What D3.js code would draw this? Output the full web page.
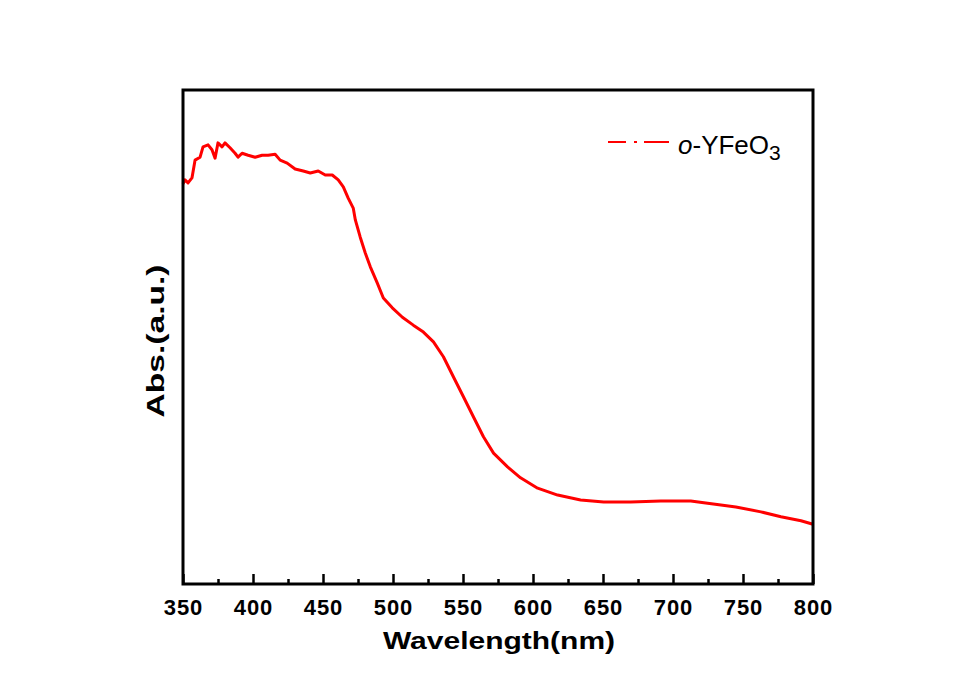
<!DOCTYPE html>
<html>
<head>
<meta charset="utf-8">
<script src="https://cdnjs.cloudflare.com/ajax/libs/d3/7.8.5/d3.min.js"></script>
<style>
html, body { margin: 0; padding: 0; background: #fff; }
svg text { font-family: "Liberation Sans", Arial, sans-serif; }
</style>
</head>
<body>
<div id="chart"></div>
<script>
'use strict';

// wavelength (nm) and absorbance (a.u., 0 = bottom of frame, 1 = top)
var wavelength = [350.0, 351.4, 353.6, 356.4, 358.6, 362.2, 364.3, 367.9, 370.7, 372.9,
    375.0, 377.9, 380.0, 383.6, 387.2, 389.3, 392.2, 396.5, 401.5, 406.5,
    410.8, 415.8, 419.4, 424.4, 430.1, 435.9, 440.9, 446.6, 451.6, 456.6,
    460.9, 464.5, 468.0, 471.6, 473.1, 476.6, 480.2, 483.8, 488.8, 493.1,
    499.5, 506.7, 514.5, 521.7, 528.9, 536.0, 543.2, 550.3, 557.5, 564.6,
    571.8, 581.8, 591.1, 603.3, 617.6, 634.0, 650.5, 669.8, 691.3, 712.7,
    723.4, 734.2, 744.9, 762.8, 777.1, 791.4, 800.0];
var absorbance = [0.810, 0.818, 0.812, 0.822, 0.858, 0.864, 0.885, 0.889, 0.879, 0.862,
    0.893, 0.885, 0.893, 0.883, 0.872, 0.864, 0.872, 0.868, 0.864, 0.868,
    0.868, 0.870, 0.858, 0.852, 0.840, 0.836, 0.832, 0.836, 0.828, 0.828,
    0.818, 0.804, 0.781, 0.761, 0.737, 0.702, 0.670, 0.642, 0.609, 0.579,
    0.559, 0.540, 0.524, 0.510, 0.490, 0.460, 0.419, 0.379, 0.338, 0.298,
    0.265, 0.237, 0.215, 0.194, 0.180, 0.170, 0.166, 0.166, 0.168, 0.168,
    0.164, 0.160, 0.156, 0.146, 0.136, 0.128, 0.121];

var majorTicks = [350, 400, 450, 500, 550, 600, 650, 700, 750, 800];
var minorTicks = [375, 425, 475, 525, 575, 625, 675, 725, 775];
var xTitle = 'Wavelength(nm)';
var yTitle = 'Abs.(a.u.)';
var seriesPrefix = 'o';
var seriesName = '-YFeO';
var seriesSub = '3';

window.addEventListener('load', function() {
    var width = 976, height = 686;
    var margin = {left: 183, right: 163, top: 90, bottom: 102};
    var plot_w = width - margin.left - margin.right,
        plot_h = height - margin.top - margin.bottom;

    var svg = d3.select('#chart')
    .append('svg')
    .attr('width', width)
    .attr('height', height);

    svg.append('rect')
    .attr('width', width)
    .attr('height', height)
    .attr('fill', '#ffffff');

    var g = svg.append('g')
    .attr('transform', 'translate(' + margin.left + ',' + margin.top + ')');

    var x = d3.scaleLinear().domain([350, 800]).range([0, plot_w]);
    var y = d3.scaleLinear().domain([0, 1]).range([plot_h, 0]);

    // curve
    var points = wavelength.map(function(w, i) { return [w, absorbance[i]]; });
    var line = d3.line()
    .x(function(d) { return x(d[0]); })
    .y(function(d) { return y(d[1]); });

    g.append('path')
    .datum(points)
    .attr('d', line)
    .attr('fill', 'none')
    .attr('stroke', '#ff0000')
    .attr('stroke-width', 3)
    .attr('stroke-linejoin', 'round');

    // minor ticks (inward, no labels)
    var minor = g.append('g')
    .attr('transform', 'translate(0,' + plot_h + ')')
    .call(d3.axisBottom(x).tickValues(minorTicks).tickSize(-5).tickFormat(''));
    minor.select('.domain').remove();
    minor.selectAll('line').attr('stroke', '#000').attr('stroke-width', 2.5);

    // major ticks
    var major = g.append('g')
    .attr('transform', 'translate(0,' + plot_h + ')')
    .call(d3.axisBottom(x).tickValues(majorTicks).tickSize(-10).tickPadding(15).tickFormat(d3.format('d')));
    major.select('.domain').remove();
    major.selectAll('line').attr('stroke', '#000').attr('stroke-width', 2.5);
    major.selectAll('text')
    .attr('fill', '#000')
    .style('font-size', '22px')
    .style('font-weight', 'bold')
    .style('letter-spacing', '1px');

    // frame
    g.append('rect')
    .attr('width', plot_w)
    .attr('height', plot_h)
    .attr('fill', 'none')
    .attr('stroke', '#000')
    .attr('stroke-width', 3);

    // axis titles (glyphs in the original are stretched sideways)
    svg.append('text')
    .attr('transform', 'translate(499,649) scale(1.25,1)')
    .attr('text-anchor', 'middle')
    .style('font-size', '24px')
    .style('font-weight', 'bold')
    .text(xTitle);

    svg.append('text')
    .attr('transform', 'translate(164,341) rotate(-90) scale(1.4,1)')
    .attr('text-anchor', 'middle')
    .style('font-size', '24px')
    .style('font-weight', 'bold')
    .text(yTitle);

    // legend
    var leg = svg.append('g');
    leg.append('line')
    .attr('x1', 608).attr('x2', 669)
    .attr('y1', 142).attr('y2', 142)
    .attr('stroke', '#ff0000')
    .attr('stroke-width', 2)
    .attr('stroke-dasharray', '18 8 3 7 25');

    var lt = leg.append('text')
    .attr('x', 678)
    .attr('y', 154)
    .style('font-size', '26px')
    .attr('fill', '#000');
    lt.append('tspan').style('font-style', 'italic').text(seriesPrefix);
    lt.append('tspan').text(seriesName);
    lt.append('tspan').attr('dy', 6).style('font-size', '21px').text(seriesSub);
});
</script>
</body>
</html>
